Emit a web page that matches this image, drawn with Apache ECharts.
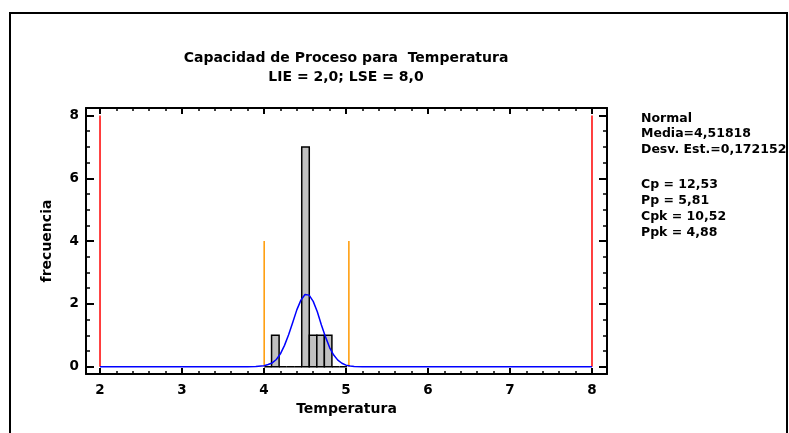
<!DOCTYPE html>
<html>
<head>
<meta charset="utf-8">
<script src="https://cdn.jsdelivr.net/npm/echarts@6/dist/echarts.min.js"></script>
<style>
html,body{margin:0;padding:0;background:#fff;}
#c{width:789px;height:433px;}
</style>
</head>
<body>
<div id="c"></div>
<script>
// ---- data ----
const TITLE = 'Capacidad de Proceso para  Temperatura';
const SUBTITLE = 'LIE = 2,0; LSE = 8,0';
const X_NAME = 'Temperatura';
const Y_NAME = 'frecuencia';
const X_TICKS = [2, 3, 4, 5, 6, 7, 8];
const Y_TICKS = [0, 2, 4, 6, 8];
const BIN_EDGES = [4.000, 4.092, 4.184, 4.276, 4.368, 4.460, 4.552, 4.644, 4.736, 4.828, 4.920, 5.012];
const BIN_COUNTS = [0, 1, 0, 0, 0, 7, 1, 1, 1, 0, 0];
const CURVE_X = [2.0, 3.8, 3.9, 4.0, 4.05, 4.1, 4.15, 4.2, 4.25, 4.3, 4.35, 4.4, 4.45, 4.5, 4.52, 4.55, 4.6, 4.65, 4.7, 4.75, 4.8, 4.85, 4.9, 4.95, 5.0, 5.05, 5.1, 5.2, 8.0];
const CURVE_Y = [0, 0, 0.01, 0.03, 0.07, 0.12, 0.23, 0.41, 0.68, 1.02, 1.41, 1.81, 2.12, 2.30, 2.32, 2.28, 2.08, 1.75, 1.33, 0.95, 0.61, 0.37, 0.21, 0.11, 0.05, 0.02, 0.01, 0, 0];
const SPEC_LIMITS = [2.0, 8.0];
const SPEC_TOP = 8;
const SIGMA_LIMITS = [4.002, 5.035];
const SIGMA_TOP = 4;
const STATS_LINES = ['Normal', 'Media=4,51818', 'Desv. Est.=0,172152', '', 'Cp = 12,53', 'Pp = 5,81', 'Cpk = 10,52', 'Ppk = 4,88'];

// ---- axis ranges ----
const XMIN = 1.829, XMAX = 8.183;
const YMIN = -0.232, YMAX = 8.239;

function ticksBetween(a, b, step, skip) {
  const out = [];
  const n = Math.round((b - a) / step);
  for (let i = 0; i <= n; i++) {
    const v = +(a + i * step).toFixed(4);
    if (skip.indexOf(v) < 0) out.push(v);
  }
  return out;
}
const X_MINOR = ticksBetween(2, 8, 0.2, X_TICKS);
const Y_MINOR = ticksBetween(0, 8, 0.5, Y_TICKS);

const FONT = 'DejaVu Sans';
const black = '#000';

function xAxisDef(pos, values, len, major, showLabel) {
  return {
    type: 'value', position: pos, min: XMIN, max: XMAX,
    axisLine: { show: major, onZero: false, lineStyle: { color: black, width: 2 } },
    axisTick: { show: true, inside: true, length: len, customValues: values, lineStyle: { color: black, width: major ? 2 : 1.5 } },
    axisLabel: { show: showLabel, customValues: values, color: black, fontFamily: FONT, fontWeight: 'bold', fontSize: 13.5, margin: 9 },
    splitLine: { show: false }
  };
}
function yAxisDef(pos, values, len, major, showLabel) {
  return {
    type: 'value', position: pos, min: YMIN, max: YMAX,
    axisLine: { show: major, onZero: false, lineStyle: { color: black, width: 2 } },
    axisTick: { show: true, inside: true, length: len, customValues: values, lineStyle: { color: black, width: major ? 2 : 1.5 } },
    axisLabel: { show: showLabel, customValues: values, color: black, fontFamily: FONT, fontWeight: 'bold', fontSize: 13.5, margin: 7 },
    splitLine: { show: false }
  };
}

const xAxes = [
  xAxisDef('bottom', X_TICKS, 6, true, true),
  xAxisDef('bottom', X_MINOR, 3, false, false),
  xAxisDef('top', X_TICKS, 6, true, false),
  xAxisDef('top', X_MINOR, 3, false, false)
];
Object.assign(xAxes[0], {
  name: X_NAME, nameLocation: 'middle', nameGap: 28,
  nameTextStyle: { color: black, fontFamily: FONT, fontWeight: 'bold', fontSize: 14 }
});
const yAxes = [
  yAxisDef('left', Y_TICKS, 8, true, true),
  yAxisDef('left', Y_MINOR, 4, false, false),
  yAxisDef('right', Y_TICKS, 8, true, false),
  yAxisDef('right', Y_MINOR, 4, false, false)
];
Object.assign(yAxes[0], {
  name: Y_NAME, nameLocation: 'middle', nameGap: 32, nameRotate: 90,
  nameTextStyle: { color: black, fontFamily: FONT, fontWeight: 'bold', fontSize: 14 }
});

const binData = BIN_COUNTS.map((c, i) => [BIN_EDGES[i], BIN_EDGES[i + 1], c]);
const curveData = CURVE_X.map((x, i) => [x, CURVE_Y[i]]);

function vline(x, top, color) {
  return {
    type: 'line', xAxisIndex: 0, yAxisIndex: 0, data: [[x, 0], [x, top]],
    symbol: 'none', silent: true, animation: false, z: 4,
    lineStyle: { color: color, width: 1.5 }
  };
}

const statTexts = [];
const statY = [120, 135.5, 151, 0, 186, 202, 218, 234];
STATS_LINES.forEach((t, i) => {
  if (!t) return;
  statTexts.push({
    type: 'text', left: 641, top: statY[i] - 8, z: 10,
    style: { text: t, fill: black, font: 'bold 12.5px "DejaVu Sans"' }
  });
});

const option = {
  animation: false,
  backgroundColor: '#fff',
  grid: { left: 86, top: 108, width: 521, height: 266 },
  xAxis: xAxes,
  yAxis: yAxes,
  graphic: [
    {
      type: 'text', x: 346, y: 58.5, z: 10,
      style: { text: TITLE, fill: black, font: 'bold 14px "DejaVu Sans"', align: 'center', verticalAlign: 'middle' }
    },
    {
      type: 'text', x: 346, y: 77.5, z: 10,
      style: { text: SUBTITLE, fill: black, font: 'bold 14px "DejaVu Sans"', align: 'center', verticalAlign: 'middle' }
    }
  ].concat(statTexts).concat([
    { type: 'rect', z: 20, shape: { x: 786, y: 0, width: 10, height: 433 }, style: { fill: '#fff' } },
    { type: 'rect', z: 21, shape: { x: 10, y: 13, width: 777, height: 440 }, style: { fill: 'none', stroke: black, lineWidth: 2 } }
  ]),
  series: [
    {
      type: 'custom', xAxisIndex: 0, yAxisIndex: 0, data: binData, z: 2,
      renderItem: function (params, api) {
        const p0 = api.coord([api.value(0), api.value(2)]);
        const p1 = api.coord([api.value(1), 0]);
        return {
          type: 'rect',
          shape: { x: p0[0], y: p0[1], width: p1[0] - p0[0], height: p1[1] - p0[1] },
          style: { fill: '#c0c0c0', stroke: black, lineWidth: 1.5 }
        };
      }
    },
    {
      type: 'line', xAxisIndex: 0, yAxisIndex: 0, data: curveData, symbol: 'none', z: 5,
      lineStyle: { color: '#0000ff', width: 1.5 }
    },
    vline(SPEC_LIMITS[0], SPEC_TOP, '#ff0000'),
    vline(SPEC_LIMITS[1], SPEC_TOP, '#ff0000'),
    vline(SIGMA_LIMITS[0], SIGMA_TOP, '#ff9900'),
    vline(SIGMA_LIMITS[1], SIGMA_TOP, '#ff9900')
  ]
};

const chart = echarts.init(document.getElementById('c'), null, { renderer: 'canvas' });
chart.setOption(option);
</script>
</body>
</html>
